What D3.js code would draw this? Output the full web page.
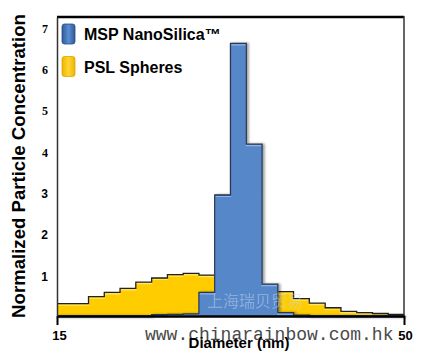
<!DOCTYPE html>
<html>
<head>
<meta charset="utf-8">
<script src="https://cdn.jsdelivr.net/npm/d3@7"></script>
<style>
  body { margin: 0; background: #fff; }
  svg { display: block; }
</style>
</head>
<body>
<svg id="chart"></svg>
<script>
// bin start diameters (nm), last bin ends at 50
const binStarts = [15, 16.59, 18.18, 19.77, 21.36, 22.95, 24.55, 26.14, 27.73, 29.32, 30.91,
  32.5, 34.09, 35.68, 37.27, 38.86, 40.45, 42.05, 43.64, 45.23, 46.82, 48.41]
const binEnd = 50
const pslValues = [0.30, 0.30, 0.47, 0.57, 0.67, 0.82, 0.92, 1.00, 1.03, 0.99, 0.95,
  0.85, 0.75, 0.60, 0.59, 0.42, 0.31, 0.20, 0.11, 0.08, 0.06, 0.04]
const mspValues = [0, 0, 0, 0, 0, 0, 0.03, 0.04, 0.05, 0.57, 2.93,
  6.60, 4.16, 0.77, 0.08, 0.02, 0, 0, 0, 0, 0, 0]
const yTicks = [1, 2, 3, 4, 5, 6, 7]
const xTicks = [15, 50]
const seriesNames = ['MSP NanoSilica™', 'PSL Spheres']

const width = 430
const height = 352
const margin = { top: 17, right: 26, bottom: 36, left: 57 }
const bodyWidth = width - margin.left - margin.right
const bodyHeight = height - margin.top - margin.bottom

const svg = d3.select('#chart').attr('width', width).attr('height', height)

const defs = svg.append('defs')
const shadow = defs.append('filter').attr('id', 'shadow')
  .attr('x', '-10%').attr('y', '-10%').attr('width', '130%').attr('height', '120%')
shadow.append('feDropShadow').attr('dx', 2).attr('dy', 0).attr('stdDeviation', 0.8)
  .attr('flood-color', '#000').attr('flood-opacity', 0.35)

const gBlue = defs.append('linearGradient').attr('id', 'swBlue').attr('x1', 0).attr('x2', 1)
gBlue.append('stop').attr('offset', 0).attr('stop-color', '#2f5b9a')
gBlue.append('stop').attr('offset', 0.5).attr('stop-color', '#5a8dd2')
gBlue.append('stop').attr('offset', 1).attr('stop-color', '#2f5b9a')
const gYel = defs.append('linearGradient').attr('id', 'swYel').attr('x1', 0).attr('x2', 1)
gYel.append('stop').attr('offset', 0).attr('stop-color', '#f0b400')
gYel.append('stop').attr('offset', 0.5).attr('stop-color', '#ffd633')
gYel.append('stop').attr('offset', 1).attr('stop-color', '#f0b400')

const xScale = d3.scaleLinear().domain([15, 50]).range([0, bodyWidth])
const yScale = d3.scaleLinear().domain([0, 7.24]).range([bodyHeight, 0])

const body = svg.append('g').attr('transform', `translate(${margin.left},${margin.top})`)

const stepData = (vals) => {
  const pts = binStarts.map((b, i) => ({ x: b, v: vals[i] }))
  pts.push({ x: binEnd, v: vals[vals.length - 1] })
  return pts
}

const area = d3.area().curve(d3.curveStepAfter)
  .x((d) => xScale(d.x)).y0(bodyHeight).y1((d) => yScale(d.v))
const line = d3.line().curve(d3.curveStepAfter)
  .x((d) => xScale(d.x)).y((d) => yScale(d.v))

const drawSeries = (vals, fill, light, edge, useShadow) => {
  const pts = stepData(vals)
  const g = body.append('g')
  if (useShadow) g.attr('filter', 'url(#shadow)')
  g.append('path').attr('d', area(pts)).attr('fill', fill)
  g.append('path').attr('d', line(pts)).attr('fill', 'none')
    .attr('stroke', light).attr('stroke-width', 1.2).attr('transform', 'translate(0,1.5)')
  g.append('path').attr('d', line(pts)).attr('fill', 'none')
    .attr('stroke', edge).attr('stroke-width', 1.3)
}

drawSeries(pslValues, '#ffcc00', '#ffe566', '#222', false)
drawSeries(mspValues, '#5787c8', '#8fb4e6', '#26374f', true)

// faint Chinese watermark
body.append('text')
  .attr('x', 150).attr('y', 290)
  .attr('font-family', 'Noto Sans CJK SC')
  .attr('font-size', 16)
  .attr('fill', '#c8d8ee')
  .attr('opacity', 0.45)
  .text('上海瑞贝贸易')

// frame top and right
body.append('line').attr('x1', 0).attr('x2', bodyWidth).attr('y1', 0).attr('y2', 0)
  .attr('stroke', '#000').attr('stroke-width', 2.5)
body.append('line').attr('x1', bodyWidth).attr('x2', bodyWidth).attr('y1', -1).attr('y2', bodyHeight)
  .attr('stroke', '#333').attr('stroke-width', 1.5)

// axes
const axisX = d3.axisBottom(xScale).tickValues(xTicks).tickSize(9).tickSizeOuter(0)
const gx = body.append('g').attr('transform', `translate(0,${bodyHeight})`).call(axisX)
gx.select('.domain').attr('stroke', '#000').attr('stroke-width', 2.5)
gx.selectAll('.tick line').attr('stroke', '#000').attr('stroke-width', 2)
gx.selectAll('.tick text')
  .attr('font-family', 'Arial, Liberation Sans, sans-serif')
  .attr('font-weight', 'bold').attr('font-size', 13).attr('fill', '#000')
  .attr('dy', '0.95em').attr('dx', (d) => (d === 15 ? 2 : 1))

const axisY = d3.axisLeft(yScale).tickValues(yTicks).tickSize(0).tickPadding(9)
const gy = body.append('g').call(axisY)
gy.select('.domain').attr('stroke', '#333').attr('stroke-width', 1.5)
gy.selectAll('.tick text')
  .attr('font-family', (d) => (d >= 4 ? 'Liberation Serif, serif' : 'Arial, Liberation Sans, sans-serif'))
  .attr('font-weight', 'bold').attr('font-size', 12).attr('fill', '#000')
  .attr('dy', '0.45em')

// legend
const legend = svg.append('g').attr('transform', 'translate(62,24)')
const swatches = ['url(#swBlue)', 'url(#swYel)']
seriesNames.forEach((name, i) => {
  const row = legend.append('g').attr('transform', `translate(0,${i * 32.5})`)
  row.append('rect').attr('width', 13).attr('height', 20).attr('rx', 2.5)
    .attr('fill', swatches[i]).attr('stroke', i === 0 ? '#2a4a7a' : '#d9a400').attr('stroke-width', 0.8)
  row.append('text').attr('x', 22).attr('y', 16)
    .attr('font-family', 'Arial, Liberation Sans, sans-serif')
    .attr('font-weight', 'bold').attr('font-size', 16).attr('fill', '#000')
    .text(name)
})

// axis titles
svg.append('text')
  .attr('transform', 'translate(25,166) rotate(-90)')
  .attr('text-anchor', 'middle')
  .attr('font-family', 'Arial, Liberation Sans, sans-serif')
  .attr('font-weight', 'bold').attr('font-size', 18.6).attr('fill', '#000')
  .text('Normalized Particle Concentration')

svg.append('text')
  .attr('x', 145).attr('y', 340)
  .attr('font-family', 'Liberation Mono, Courier New, monospace')
  .attr('font-size', 18).attr('fill', '#4a4a4a')
  .text('www.chinarainbow.com.hk')

svg.append('text')
  .attr('x', 239).attr('y', 348)
  .attr('text-anchor', 'middle')
  .attr('font-family', 'Arial, Liberation Sans, sans-serif')
  .attr('font-weight', 'bold').attr('font-size', 15).attr('fill', '#000')
  .text('Diameter (nm)')
</script>
</body>
</html>
